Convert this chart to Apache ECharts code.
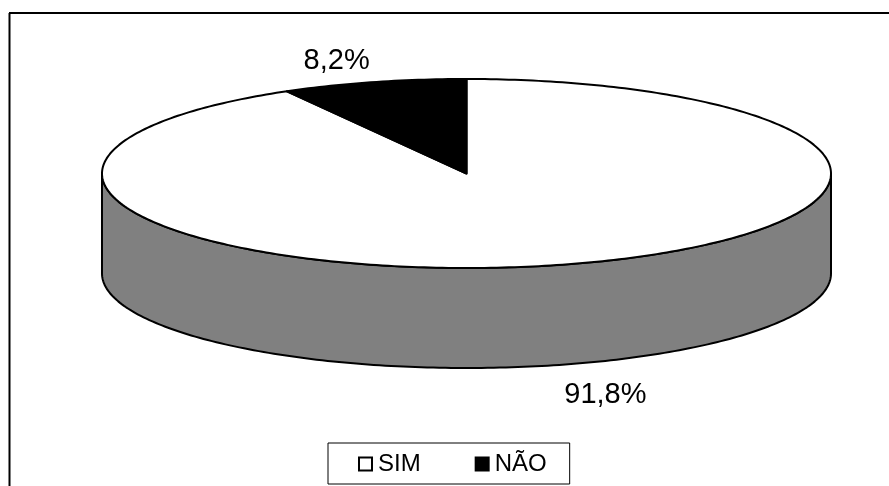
<!DOCTYPE html>
<html>
<head>
<meta charset="utf-8">
<title>SIM / NÃO</title>
<style>
  html, body { margin: 0; padding: 0; background: #fff; }
  #main { width: 889px; height: 486px; }
</style>
<script src="https://cdn.jsdelivr.net/npm/echarts@6/dist/echarts.min.js"></script>
</head>
<body>
<div id="main"></div>
<script>
const categories = ['SIM', 'NÃO'];
const values = [91.8, 8.2];
const colors = ['#ffffff', '#000000'];
const wallColor = '#808080';

const total = values.reduce(function (a, b) { return a + b; }, 0);

// disc geometry, angles are clockwise from 12 o'clock
const cx = 466.5, cy = 173.5, rx = 364.5, ry = 94.5, depth = 100;
// where the percent labels sit, relative to the middle of their slice
const labelOffset = [[46, 130], [-37, -21]];

function pt(angle, drop) {
  return [cx + rx * Math.sin(angle), cy - ry * Math.cos(angle) + (drop || 0)];
}

function arc(from, to, drop) {
  const pts = [];
  const steps = Math.max(2, Math.ceil(Math.abs(to - from) * 60));
  for (let i = 0; i <= steps; i++) {
    pts.push(pt(from + (to - from) * i / steps, drop));
  }
  return pts;
}

function renderSlice(params, api) {
  const idx = params.seriesIndex;
  let start = 0;
  for (let i = 0; i < idx; i++) start += values[i];
  const a0 = start / total * Math.PI * 2;
  const a1 = (start + api.value(0)) / total * Math.PI * 2;
  const children = [];

  // front wall, only the part of the slice facing the viewer
  const w0 = Math.max(a0, Math.PI / 2), w1 = Math.min(a1, Math.PI * 1.5);
  if (w1 > w0) {
    children.push({
      type: 'polygon',
      shape: { points: arc(w0, w1, 0).concat(arc(w1, w0, depth)) },
      style: { fill: wallColor, stroke: '#000', lineWidth: 2, lineJoin: 'round' }
    });
  }

  children.push({
    type: 'polygon',
    shape: { points: [[cx, cy]].concat(arc(a0, a1, 0)) },
    style: { fill: colors[idx], stroke: '#000', lineWidth: 2, lineJoin: 'round' }
  });

  const mid = pt((a0 + a1) / 2);
  children.push({
    type: 'text',
    z2: 10,
    style: {
      text: api.value(0).toFixed(1).replace('.', ',') + '%',
      x: mid[0] + labelOffset[idx][0],
      y: mid[1] + labelOffset[idx][1],
      align: 'center',
      verticalAlign: 'middle',
      fill: '#000',
      font: '29px "Liberation Sans", Arial, sans-serif'
    }
  });

  return { type: 'group', children: children };
}

const chart = echarts.init(document.getElementById('main'));

chart.setOption({
  backgroundColor: '#fff',
  animation: false,
  graphic: [
    // frame is only drawn on the top and left in the original
    { type: 'line', shape: { x1: 9, y1: 13, x2: 889, y2: 13 }, style: { stroke: '#000', lineWidth: 2 } },
    { type: 'line', shape: { x1: 9.5, y1: 13, x2: 9.5, y2: 486 }, style: { stroke: '#000', lineWidth: 2 } }
  ],
  legend: {
    data: categories,
    left: 328,
    top: 443,
    padding: [9, 23, 8, 30],
    itemGap: 54,
    itemWidth: 13,
    itemHeight: 13,
    icon: 'rect',
    borderColor: '#000',
    borderWidth: 1,
    backgroundColor: '#fff',
    selectedMode: false,
    textStyle: {
      color: '#000',
      fontSize: 24,
      fontFamily: '"Liberation Sans", Arial, sans-serif',
      padding: [0, 0, 0, 1]
    }
  },
  series: categories.map(function (name, i) {
    return {
      type: 'custom',
      name: name,
      coordinateSystem: 'none',
      renderItem: renderSlice,
      silent: true,
      itemStyle: { color: colors[i], borderColor: '#000', borderWidth: 1.5 },
      data: [[values[i]]]
    };
  })
});
</script>
</body>
</html>
